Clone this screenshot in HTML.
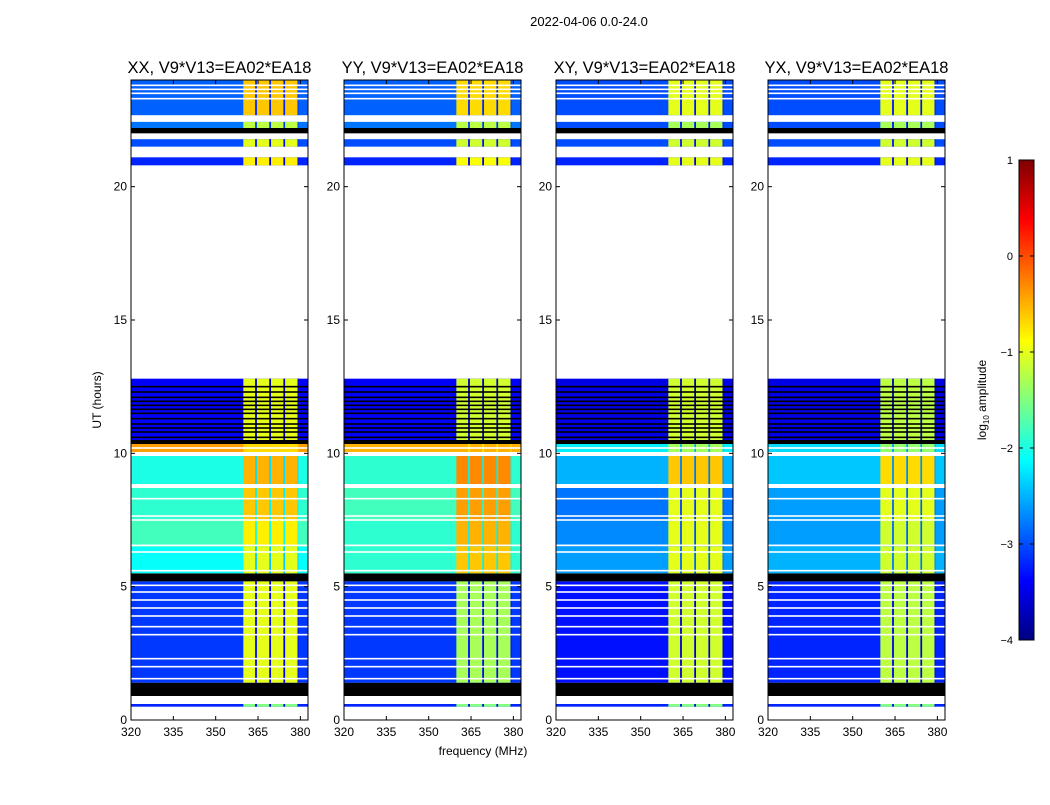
<!DOCTYPE html>
<html><head><meta charset="utf-8"><style>
body{margin:0;background:#fff;font-family:"Liberation Sans","DejaVu Sans",sans-serif}
svg text{font-family:"Liberation Sans","DejaVu Sans",sans-serif}
</style></head><body>
<svg id="fig" width="1050" height="800" xmlns="http://www.w3.org/2000/svg">
<text x="589" y="26" font-size="13" text-anchor="middle">2022-04-06 0.0-24.0</text>
<text x="483" y="755" font-size="12" text-anchor="middle">frequency (MHz)</text>
<text transform="translate(101,400) rotate(-90)" font-size="12" text-anchor="middle">UT (hours)</text>
<g id="panels"></g>
<g id="cbar"></g>
</svg>
<script>
const titles=["XX, V9*V13=EA02*EA18","YY, V9*V13=EA02*EA18","XY, V9*V13=EA02*EA18","YX, V9*V13=EA02*EA18"];
const xTicks=[320,335,350,365,380];
const yTicks=[0,5,10,15,20];
const cbTicks=[1,0,-1,-2,-3,-4];
// row bands: start hour, end hour, kind ('w' white, 'k' black, 'd' data)
const rowStart=[0.0,0.5,0.6,0.9,1.4,5.2,5.5,6.5,7.5,8.7,8.85,9.9,10.05,10.35,10.5,12.8,20.8,21.1,21.5,21.78,22.0,22.2,22.43,22.68,24.0];
const rowKind =['w','d','w','k','d','k','d','d','d','w','d','w','d','k','d','w','d','w','d','w','k','d','w','d'];
// base (outside bright channels) log10 amplitude per panel
const baseXX=[0,-3.2,0,0,-3.1,0,-2.1,-1.8,-1.9,0,-2.0,0,-0.4,0,-3.4,0,-3.2,0,-3.0,0,0,-2.8,0,-2.9];
const baseYY=[0,-3.2,0,0,-3.1,0,-1.9,-1.9,-1.8,0,-1.9,0,-0.5,0,-3.4,0,-3.2,0,-3.0,0,0,-2.8,0,-2.9];
const baseXY=[0,-3.2,0,0,-3.3,0,-2.6,-2.7,-2.8,0,-2.5,0,-2.2,0,-3.5,0,-3.2,0,-3.0,0,0,-3.0,0,-3.0];
const baseYX=[0,-3.2,0,0,-3.2,0,-2.5,-2.6,-2.6,0,-2.4,0,-2.3,0,-3.5,0,-3.2,0,-3.0,0,0,-3.0,0,-3.0];
// bright channel value per panel
const highXX=[0,-1.5,0,0,-1.0,0,-1.0,-0.8,-0.6,0,-0.5,0,-0.7,0,-1.0,0,-0.8,0,-1.0,0,0,-1.2,0,-0.6];
const highYY=[0,-1.5,0,0,-1.3,0,-0.6,-0.5,-0.4,0,-0.3,0,-0.5,0,-1.1,0,-0.9,0,-1.1,0,0,-1.2,0,-0.7];
const highXY=[0,-1.5,0,0,-1.1,0,-1.0,-1.0,-1.0,0,-0.6,0,-1.3,0,-1.1,0,-1.0,0,-1.1,0,0,-1.3,0,-1.0];
const highYX=[0,-1.5,0,0,-1.2,0,-1.1,-1.1,-1.0,0,-0.7,0,-1.4,0,-1.2,0,-1.0,0,-1.1,0,0,-1.3,0,-1.0];
// bright channel blocks (MHz) and gap channels
const chanStart=[359.8,364.0,364.6,369.0,369.6,374.0,374.6,379.0];
const chanEnd  =[364.0,364.6,369.0,369.6,374.0,374.6,379.0,379.3];
const chanBright=[1,0,1,0,1,0,1,0];
// thin white gap lines (hours) and black flag lines
const whiteLines=[1.55,2.0,2.3,3.2,3.5,3.9,4.2,4.5,4.8,5.05,5.6,6.3,6.55,7.5,7.65,8.3,9.95,10.2,23.3,23.5,23.65,23.8];
const blackLines=[10.6,10.8,10.95,11.1,11.3,11.5,11.65,11.8,11.95,12.1,12.3,12.5,5.3,5.4];
const bases=[baseXX,baseYY,baseXY,baseYX];
const highs=[highXX,highYY,highXY,highYX];
const panelX=[131,344,556,768], PW=177, PT=80, PB=720;
const fMin=320,fMax=382.7,tMin=0,tMax=24,vMin=-4,vMax=1;
function jet(v){let t=(v-vMin)/(vMax-vMin);t=Math.max(0,Math.min(1,t));
 const c=x=>Math.round(255*Math.max(0,Math.min(1,x)));
 return `rgb(${c(1.5-Math.abs(4*t-3))},${c(1.5-Math.abs(4*t-2))},${c(1.5-Math.abs(4*t-1))})`;}
const NS="http://www.w3.org/2000/svg";
function el(tag,attrs,parent){const e=document.createElementNS(NS,tag);for(const k in attrs)e.setAttribute(k,attrs[k]);parent.appendChild(e);return e;}
const root=document.getElementById('panels');
for(let p=0;p<4;p++){
 const x0=panelX[p];
 const xs=f=>x0+(f-fMin)/(fMax-fMin)*PW;
 const ys=h=>PB-(h-tMin)/(tMax-tMin)*(PB-PT);
 const g=el('g',{},root);
 
 
 const hm=el('g',{},g);
 
 
 for(let r=0;r<rowKind.length;r++){
  const y1=ys(rowStart[r+1]),y0=ys(rowStart[r]);
  const k=rowKind[r];
  if(k==='w')continue;
  const fill=k==='k'?'#000':jet(bases[p][r]);
  const rc=el('rect',{x:x0,y:y1,width:PW,height:y0-y1,fill:fill},hm);
  
  
  if(k==='d'){
   for(let c=0;c<chanStart.length;c++){
    const v=chanBright[c]?highs[p][r]:bases[p][r]-0.3;
    const cc=el('rect',{x:xs(chanStart[c]),y:y1,width:xs(chanEnd[c])-xs(chanStart[c]),height:y0-y1,fill:jet(v)},hm);
    
    
   }
  }
 }
 for(const h of whiteLines){const l=el('rect',{x:x0,y:ys(h)-0.8,width:PW,height:1.6,fill:'#fff'},hm);
  }
 for(const h of blackLines){const l=el('rect',{x:x0,y:ys(h)-0.8,width:PW,height:1.6,fill:'#000'},hm);
  }
 const fr=el('rect',{x:x0,y:PT,width:PW,height:PB-PT,fill:'none',stroke:'#000','stroke-width':1},g);
 
 const t=el('text',{x:x0+PW/2,y:73,'font-size':16.5,'text-anchor':'middle'},g);t.textContent=titles[p];
 
 for(const f of xTicks){const X=xs(f);
  el('line',{x1:X,x2:X,y1:PB,y2:PB-4,stroke:'#000'},g);el('line',{x1:X,x2:X,y1:PT,y2:PT+4,stroke:'#000'},g);
  const tx=el('text',{x:X,y:PB+16,'font-size':12,'text-anchor':'middle'},g);tx.textContent=f;
  }
 for(const h of yTicks){const Y=ys(h);
  el('line',{x1:x0,x2:x0+4,y1:Y,y2:Y,stroke:'#000'},g);el('line',{x1:x0+PW,x2:x0+PW-4,y1:Y,y2:Y,stroke:'#000'},g);
  const ty=el('text',{x:x0-4,y:Y+4,'font-size':12,'text-anchor':'end'},g);ty.textContent=h;
  }
}
// colorbar
const cb=document.getElementById('cbar');
const cbX=1019,cbW=15,cbT=160,cbB=640;
const cs=v=>cbB-(v-vMin)/(vMax-vMin)*(cbB-cbT);
for(let i=0;i<240;i++){const v0=vMin+i*(vMax-vMin)/240,v1=v0+(vMax-vMin)/240;
 el('rect',{x:cbX,y:cs(v1),width:cbW,height:cs(v0)-cs(v1)+0.5,fill:jet((v0+v1)/2)},cb);}
el('rect',{x:cbX,y:cbT,width:cbW,height:cbB-cbT,fill:'none',stroke:'#000'},cb);
for(const v of cbTicks){const Y=cs(v);
 el('line',{x1:cbX,x2:cbX+4,y1:Y,y2:Y,stroke:'#000'},cb);el('line',{x1:cbX+cbW,x2:cbX+cbW-4,y1:Y,y2:Y,stroke:'#000'},cb);
 const tt=el('text',{x:1013,y:Y+4,'font-size':11,'text-anchor':'end'},cb);tt.textContent=(v<0?'\u2212'+(-v):v);
 }
const cl=el('text',{transform:'translate(986,400) rotate(-90)','font-size':12,'text-anchor':'middle'},cb);
cl.innerHTML='log<tspan font-size="8" dy="3">10</tspan><tspan dy="-3"> amplitude</tspan>';

</script>
</body></html>
